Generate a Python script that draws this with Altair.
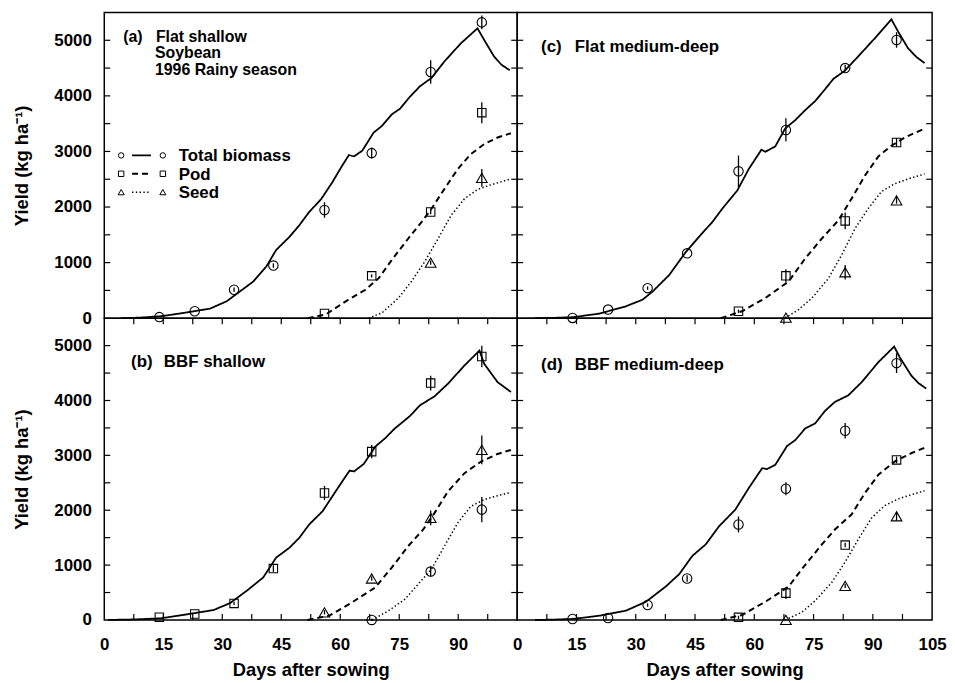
import altair as alt
import pandas as pd

FONT = "Liberation Sans"

# ---------------- simulated curves (days after sowing, kg/ha) ----------------
a_total_day = [4.3, 9.0, 14.5, 20.2, 26.9, 31.1, 34.5, 37.9, 41.2, 43.7, 47.1, 49.6, 52.1, 55.1, 58.0, 60.5, 62.2, 63.5, 65.6, 68.5, 70.6, 73.1, 75.2, 77.7, 80.3, 83.2, 86.5, 90.7, 94.9, 96.6, 99.1, 101.0, 103.1]
a_total_val = [0, 10, 36, 95, 173, 304, 482, 661, 929, 1227, 1464, 1673, 1911, 2138, 2447, 2745, 2935, 2911, 3013, 3340, 3459, 3667, 3768, 3983, 4174, 4322, 4620, 4947, 5215, 5006, 4710, 4560, 4460]
a_pod_day = [51.7, 56.3, 61.4, 66.4, 69.8, 73.1, 77.3, 80.7, 83.2, 86.5, 89.9, 93.2, 96.6, 100.0, 103.4]
a_pod_val = [0, 66, 304, 512, 720, 1048, 1434, 1732, 1970, 2327, 2684, 2952, 3131, 3251, 3327]
a_seed_day = [67.2, 70.6, 74.8, 78.1, 81.5, 84.9, 88.2, 91.6, 94.9, 98.3, 103.4]
a_seed_val = [0, 95, 363, 661, 1018, 1434, 1851, 2149, 2316, 2399, 2506]

c_total_day = [4.5, 9.0, 14.1, 20.8, 27.5, 31.7, 34.3, 38.5, 42.6, 46.0, 49.4, 51.9, 55.7, 58.6, 61.8, 62.8, 65.3, 67.8, 70.4, 72.9, 75.4, 77.5, 80.0, 82.9, 86.3, 90.5, 94.7, 96.4, 98.9, 101.0, 103.1]
c_total_val = [0, 6, 18, 83, 214, 333, 482, 780, 1185, 1464, 1732, 1970, 2298, 2684, 3031, 2995, 3090, 3411, 3566, 3745, 3906, 4084, 4304, 4453, 4710, 5036, 5376, 5156, 4858, 4700, 4590]
c_pod_day = [51.5, 56.9, 62.8, 68.7, 72.9, 77.1, 81.3, 84.6, 88.0, 91.4, 94.7, 98.1, 102.7]
c_pod_val = [0, 125, 363, 661, 1077, 1434, 1762, 2149, 2566, 2911, 3102, 3251, 3399]
c_seed_day = [67.8, 71.2, 74.6, 78.8, 82.1, 85.5, 88.8, 92.2, 95.5, 98.9, 103.1]
c_seed_val = [0, 155, 363, 720, 1137, 1613, 1970, 2280, 2417, 2506, 2595]

b_total_day = [1.0, 8.0, 14.4, 21.1, 27.8, 32.0, 36.2, 40.4, 43.7, 47.1, 49.6, 52.1, 55.5, 58.0, 60.5, 62.4, 63.5, 66.0, 68.9, 71.4, 73.9, 77.7, 80.3, 84.0, 87.4, 91.6, 95.4, 96.6, 100.0, 103.4]
b_total_val = [0, 10, 30, 103, 181, 308, 531, 773, 1136, 1317, 1498, 1740, 1981, 2253, 2524, 2724, 2706, 2845, 3159, 3310, 3492, 3715, 3914, 4077, 4307, 4639, 4910, 4669, 4336, 4155]
b_pod_day = [51.7, 57.2, 63.0, 68.9, 73.1, 77.3, 81.1, 84.0, 87.4, 91.6, 95.8, 100.0, 103.4]
b_pod_val = [0, 78, 320, 592, 955, 1347, 1649, 1952, 2343, 2676, 2887, 3026, 3099]
b_seed_day = [68.1, 72.3, 76.5, 79.8, 83.2, 86.5, 89.9, 93.2, 96.6, 100.0, 103.4]
b_seed_val = [0, 169, 381, 652, 924, 1347, 1770, 2071, 2193, 2265, 2325]

d_total_day = [4.5, 9.0, 14.1, 20.8, 27.5, 32.6, 37.6, 41.0, 44.3, 47.7, 51.1, 55.2, 58.6, 62.0, 63.2, 65.3, 68.3, 70.4, 72.9, 75.4, 77.9, 80.4, 83.8, 87.2, 91.4, 95.4, 96.8, 99.7, 101.5, 103.5]
d_total_val = [0, 6, 18, 78, 169, 332, 610, 834, 1166, 1377, 1709, 2011, 2404, 2767, 2749, 2827, 3171, 3280, 3492, 3582, 3811, 3974, 4095, 4336, 4699, 4983, 4789, 4458, 4320, 4217]
d_pod_day = [51.5, 56.9, 62.8, 68.7, 72.0, 77.1, 80.4, 84.6, 88.0, 91.4, 95.5, 99.7, 103.1]
d_pod_val = [0, 91, 332, 610, 924, 1377, 1649, 1921, 2314, 2646, 2887, 3039, 3140]
d_seed_day = [67.8, 72.0, 75.4, 79.6, 82.9, 86.3, 89.7, 93.0, 96.4, 99.7, 103.1]
d_seed_val = [0, 139, 350, 683, 1046, 1468, 1861, 2084, 2205, 2283, 2356]

# ---------------- observations ----------------
obs_days = [14, 23, 33, 43, 56, 68, 83, 96]
pod_days = [56, 68, 83, 96]
seed_days_a = [83, 96]
seed_days = [68, 83, 96]

a_obs_total = [20, 125, 512, 947, 1947, 2970, 4429, 5322]
a_err_total = [0, 0, 40, 40, 140, 100, 210, 125]
a_obs_pod = [84, 762, 1911, 3697]
a_err_pod = [0, 30, 40, 190]
a_obs_seed = [1000, 2524]
a_err_seed = [40, 160]

c_obs_total = [5, 155, 541, 1167, 2643, 3387, 4500, 5006]
c_err_total = [0, 0, 30, 0, 283, 210, 60, 140]
c_obs_pod = [125, 762, 1750, 3161]
c_err_pod = [30, 120, 150, 80]
c_obs_seed = [10, 827, 2120]
c_err_seed = [20, 130, 60]

b_obs_total = [49, 109, 302, 937, 2314, 3068, 4318, 4802]
b_err_total = [0, 0, 30, 60, 130, 120, 135, 195]
b_obs_pod = [139, 756, 1861, 3099]
b_err_pod = [40, 40, 135, 263]
b_obs_seed = [0, 882, 2011]
b_err_seed = [20, 90, 232]

d_obs_total = [18, 36, 272, 755, 1740, 2392, 3449, 4681]
d_err_total = [0, 0, 30, 60, 145, 120, 140, 180]
d_obs_pod = [48, 489, 1365, 2917]
d_err_pod = [30, 105, 40, 60]
d_obs_seed = [0, 622, 1890]
d_err_seed = [0, 40, 80]

# ---------------- axes ticks / labels ----------------
x_labels_left = [0, 15, 30, 45, 60, 75, 90]
x_labels_right = [0, 15, 30, 45, 60, 75, 90, 105]
x_ticks = [7.5, 15, 22.5, 30, 37.5, 45, 52.5, 60, 67.5, 75, 82.5, 90, 97.5]
y_labels = [0, 1000, 2000, 3000, 4000, 5000]
y_ticks = [500, 1000, 1500, 2000, 2500, 3000, 3500, 4000, 4500, 5000]

series_names = ["Total biomass", "Pod", "Seed"]
panel_letters = ["(a)", "(b)", "(c)", "(d)"]
panel_names = ["Flat shallow", "BBF shallow", "Flat medium-deep", "BBF medium-deep"]
panel_a_extra = ["Soybean", "1996 Rainy season"]

DASHES = [[1, 0], [6, 4], [1.4, 2.4]]
WIDTHS = [1.8, 2.0, 1.5]
SIZES = {"circle": 90, "square": 72, "triangle-up": 115}
LEG_SIZES = {"circle": 30, "square": 30, "triangle-up": 38}


def xs():
    return alt.Scale(domain=[0, 105], nice=False, zero=False)


def ys():
    return alt.Scale(domain=[0, 5500], nice=False)


def text_layer(label, x, y, size=17):
    return alt.Chart(pd.DataFrame({"t": [label]})).mark_text(
        font=FONT, fontWeight="bold", fontSize=size, align="left",
        baseline="alphabetic", color="black").encode(
        x=alt.value(x), y=alt.value(y), text="t:N")


def panel(curves, obs, shapes, w, h, x_axis, y_axis, bottom_row, texts):
    layers = []
    for i, (days, vals) in enumerate(curves):
        df = pd.DataFrame({"day": days, "v": vals})
        layers.append(alt.Chart(df).mark_line(
            color="black", strokeWidth=WIDTHS[i], strokeDash=DASHES[i]).encode(
            x=alt.X("day:Q", scale=xs(), axis=x_axis),
            y=alt.Y("v:Q", scale=ys(), axis=y_axis)))
    for i, (days, vals, errs) in enumerate(obs):
        df = pd.DataFrame({"day": days, "v": vals,
                           "lo": [v - e for v, e in zip(vals, errs)],
                           "hi": [v + e for v, e in zip(vals, errs)],
                           "e": errs})
        layers.append(alt.Chart(df).mark_rule(color="black", strokeWidth=1.3).encode(
            x=alt.X("day:Q", scale=xs(), axis=x_axis),
            y=alt.Y("lo:Q", scale=ys(), axis=y_axis),
            y2="hi:Q").transform_filter("datum.e > 0"))
        layers.append(alt.Chart(df).mark_point(
            shape=shapes[i], filled=False, color="black", strokeWidth=1.1,
            size=SIZES[shapes[i]], opacity=1).encode(
            x=alt.X("day:Q", scale=xs(), axis=x_axis),
            y=alt.Y("v:Q", scale=ys(), axis=y_axis)))
    yt = pd.DataFrame({"v": y_ticks})
    layers.append(alt.Chart(yt).mark_rule(color="black", strokeWidth=1.2).encode(
        y=alt.Y("v:Q", scale=ys(), axis=y_axis), x=alt.value(0), x2=alt.value(6)))
    layers.append(alt.Chart(yt).mark_rule(color="black", strokeWidth=1.2).encode(
        y=alt.Y("v:Q", scale=ys(), axis=y_axis), x=alt.value(w - 6), x2=alt.value(w)))
    if bottom_row:
        xt = pd.DataFrame({"day": x_ticks})
        layers.append(alt.Chart(xt).mark_rule(color="black", strokeWidth=1.2).encode(
            x=alt.X("day:Q", scale=xs(), axis=x_axis), y=alt.value(h - 6), y2=alt.value(h)))
        layers.append(alt.Chart(xt).mark_rule(color="black", strokeWidth=1.2).encode(
            x=alt.X("day:Q", scale=xs(), axis=x_axis), y=alt.value(0), y2=alt.value(6)))
    layers.extend(texts)
    return alt.layer(*layers).properties(width=w, height=h)


def x_axis_for(vals):
    return alt.Axis(values=vals, format="d", title="Days after sowing", labelPadding=17,
                    titlePadding=8, labelFlush=False, labelOverlap=False,
                    ticks=False, domain=False, grid=False)


y_axis_left = alt.Axis(values=y_labels, format="d", title="Yield (kg ha\u207b\u00b9)",
                       labelPadding=13, titlePadding=23, labelFlush=False,
                       labelOverlap=False, ticks=False, domain=False, grid=False)

legend_layers = []
leg_shapes = ["circle", "square", "triangle-up"]
leg_rows = [144, 162.5, 181]
for i, name in enumerate(series_names):
    yy = leg_rows[i]
    one = pd.DataFrame({"t": [name]})
    legend_layers.append(alt.Chart(one).mark_point(
        shape=leg_shapes[i], filled=False, color="black", strokeWidth=1,
        size=LEG_SIZES[leg_shapes[i]], opacity=1).encode(x=alt.value(17), y=alt.value(yy)))
    legend_layers.append(alt.Chart(one).mark_point(
        shape=leg_shapes[i], filled=False, color="black", strokeWidth=1,
        size=LEG_SIZES[leg_shapes[i]], opacity=1).encode(x=alt.value(59), y=alt.value(yy)))
    legend_layers.append(alt.Chart(one).mark_rule(
        color="black", strokeWidth=WIDTHS[i], strokeDash=DASHES[i]).encode(
        x=alt.value(28), x2=alt.value(47), y=alt.value(yy)))
    legend_layers.append(text_layer(name, 75, yy + 6, 17))

W_L, W_R, H_T, H_B = 416, 418, 308, 304

pa = panel(
    [(a_total_day, a_total_val), (a_pod_day, a_pod_val), (a_seed_day, a_seed_val)],
    [(obs_days, a_obs_total, a_err_total), (pod_days, a_obs_pod, a_err_pod),
     (seed_days_a, a_obs_seed, a_err_seed)],
    ["circle", "square", "triangle-up"], W_L, H_T, None, y_axis_left, False,
    [text_layer(panel_letters[0], 19, 29.5, 16), text_layer(panel_names[0], 52, 29.5, 16),
     text_layer(panel_a_extra[0], 51, 46, 16), text_layer(panel_a_extra[1], 51, 62.5, 16)]
    + legend_layers)

pc = panel(
    [(c_total_day, c_total_val), (c_pod_day, c_pod_val), (c_seed_day, c_seed_val)],
    [(obs_days, c_obs_total, c_err_total), (pod_days, c_obs_pod, c_err_pod),
     (seed_days, c_obs_seed, c_err_seed)],
    ["circle", "square", "triangle-up"], W_R, H_T, None, None, False,
    [text_layer(panel_letters[2], 24, 40), text_layer(panel_names[2], 58, 40)])

pb = panel(
    [(b_total_day, b_total_val), (b_pod_day, b_pod_val), (b_seed_day, b_seed_val)],
    [(obs_days, b_obs_total, b_err_total), (pod_days, b_obs_pod, b_err_pod),
     (seed_days, b_obs_seed, b_err_seed)],
    ["square", "triangle-up", "circle"], W_L, H_B, x_axis_for(x_labels_left), y_axis_left, True,
    [text_layer(panel_letters[1], 27, 49), text_layer(panel_names[1], 60, 49)])

pd_ = panel(
    [(d_total_day, d_total_val), (d_pod_day, d_pod_val), (d_seed_day, d_seed_val)],
    [(obs_days, d_obs_total, d_err_total), (pod_days, d_obs_pod, d_err_pod),
     (seed_days, d_obs_seed, d_err_seed)],
    ["circle", "square", "triangle-up"], W_R, H_B, x_axis_for(x_labels_right), None, True,
    [text_layer(panel_letters[3], 24, 52), text_layer(panel_names[3], 58, 52)])

chart = alt.concat(pa, pc, pb, pd_, columns=2, spacing=0, bounds="flush").properties(
    padding={"left": 3, "top": 1, "right": 0, "bottom": 0},
    background="white"
).configure_view(stroke="black", strokeWidth=1.5).configure_axis(
    labelFont=FONT, titleFont=FONT, labelFontWeight="bold", titleFontWeight="bold",
    labelFontSize=17, titleFontSize=18.5, labelColor="black", titleColor="black"
)

chart.save("out.html", embed_options={"renderer": "svg", "actions": False})
